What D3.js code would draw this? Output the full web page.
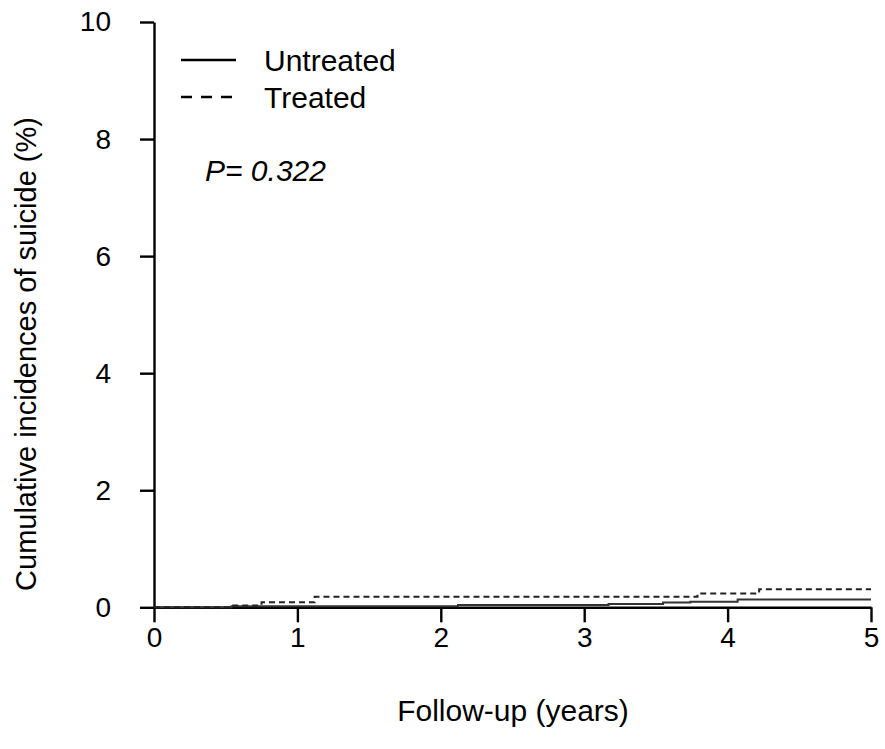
<!DOCTYPE html>
<html>
<head>
<meta charset="utf-8">
<script src="https://cdn.jsdelivr.net/npm/d3@7"></script>
<style>
  body { margin: 0; background: #fff; }
  svg { display: block; font-family: "Liberation Sans", Arial, sans-serif; }
</style>
</head>
<body>
<svg id="chart" width="885" height="749"></svg>
<script>
// ---- data ----
const xTicks = [0, 1, 2, 3, 4, 5];
const yTicks = [0, 2, 4, 6, 8, 10];
const seriesNames = ["Untreated", "Treated"];
const untreatedTime  = [0, 0.54, 2.12, 3.17, 3.55, 3.74, 4.07, 5];
const untreatedValue = [0, 0.02, 0.04, 0.055, 0.08, 0.095, 0.135, 0.135];
const treatedTime  = [0, 0.54, 0.75, 1.12, 3.79, 4.22, 5];
const treatedValue = [0, 0.03, 0.085, 0.18, 0.235, 0.31, 0.31];
const pLabel = "0.322";
const xTitle = "Follow-up (years)";
const yTitle = "Cumulative incidences of suicide (%)";

// ---- layout ----
const svg = d3.select("#chart");
const x = d3.scaleLinear().domain([0, 5]).range([154, 871]);
const y = d3.scaleLinear().domain([0, 10]).range([607.3, 22]);

const axisW = 2.4;
const font = '"Liberation Sans", Arial, sans-serif';

// y axis
const yAxis = svg.append("g").attr("transform", "translate(154,0)")
  .call(d3.axisLeft(y).tickValues(yTicks).tickFormat(d3.format("d"))
    .tickSize(14).tickPadding(29).tickSizeOuter(0));
// x axis
const xAxis = svg.append("g").attr("transform", "translate(0,607.3)")
  .call(d3.axisBottom(x).tickValues(xTicks).tickFormat(d3.format("d"))
    .tickSize(15).tickPadding(5).tickSizeOuter(0));

[xAxis, yAxis].forEach(g => {
  g.attr("font-size", 28).attr("font-family", font);
  g.select(".domain").attr("stroke", "#000").attr("stroke-width", axisW);
  g.selectAll(".tick line").attr("stroke", "#000").attr("stroke-width", axisW);
  g.selectAll(".tick text").attr("fill", "#000");
});

// curves
const line = d3.line().x(d => x(d[0])).y(d => y(d[1])).curve(d3.curveStepAfter);
const untreated = untreatedTime.map((t, i) => [t, untreatedValue[i]]);
const treated = treatedTime.map((t, i) => [t, treatedValue[i]]);

svg.append("path").datum(untreated).attr("d", line)
  .attr("fill", "none").attr("stroke", "#333").attr("stroke-width", 2);
svg.append("path").datum(treated).attr("d", line)
  .attr("fill", "none").attr("stroke", "#222").attr("stroke-width", 2)
  .attr("stroke-dasharray", "6,4");

// legend
const leg = svg.append("g");
leg.append("line").attr("x1", 181).attr("x2", 236).attr("y1", 60).attr("y2", 60)
  .attr("stroke", "#000").attr("stroke-width", 2.4);
leg.append("line").attr("x1", 181).attr("x2", 236).attr("y1", 97).attr("y2", 97)
  .attr("stroke", "#000").attr("stroke-width", 2.4).attr("stroke-dasharray", "11,9");
leg.append("text").attr("x", 264).attr("y", 71).attr("font-size", 30).text(seriesNames[0]);
leg.append("text").attr("x", 264).attr("y", 108).attr("font-size", 30).text(seriesNames[1]);

// P value
svg.append("text").attr("x", 205).attr("y", 181).attr("font-size", 30)
  .attr("font-style", "italic").text("P= " + pLabel);

// axis titles
svg.append("text").attr("x", 513).attr("y", 721).attr("text-anchor", "middle")
  .attr("font-size", 30).text(xTitle);
svg.append("text").attr("transform", "translate(36,354) rotate(-90)")
  .attr("text-anchor", "middle").attr("font-size", 29).text(yTitle);
</script>
</body>
</html>
